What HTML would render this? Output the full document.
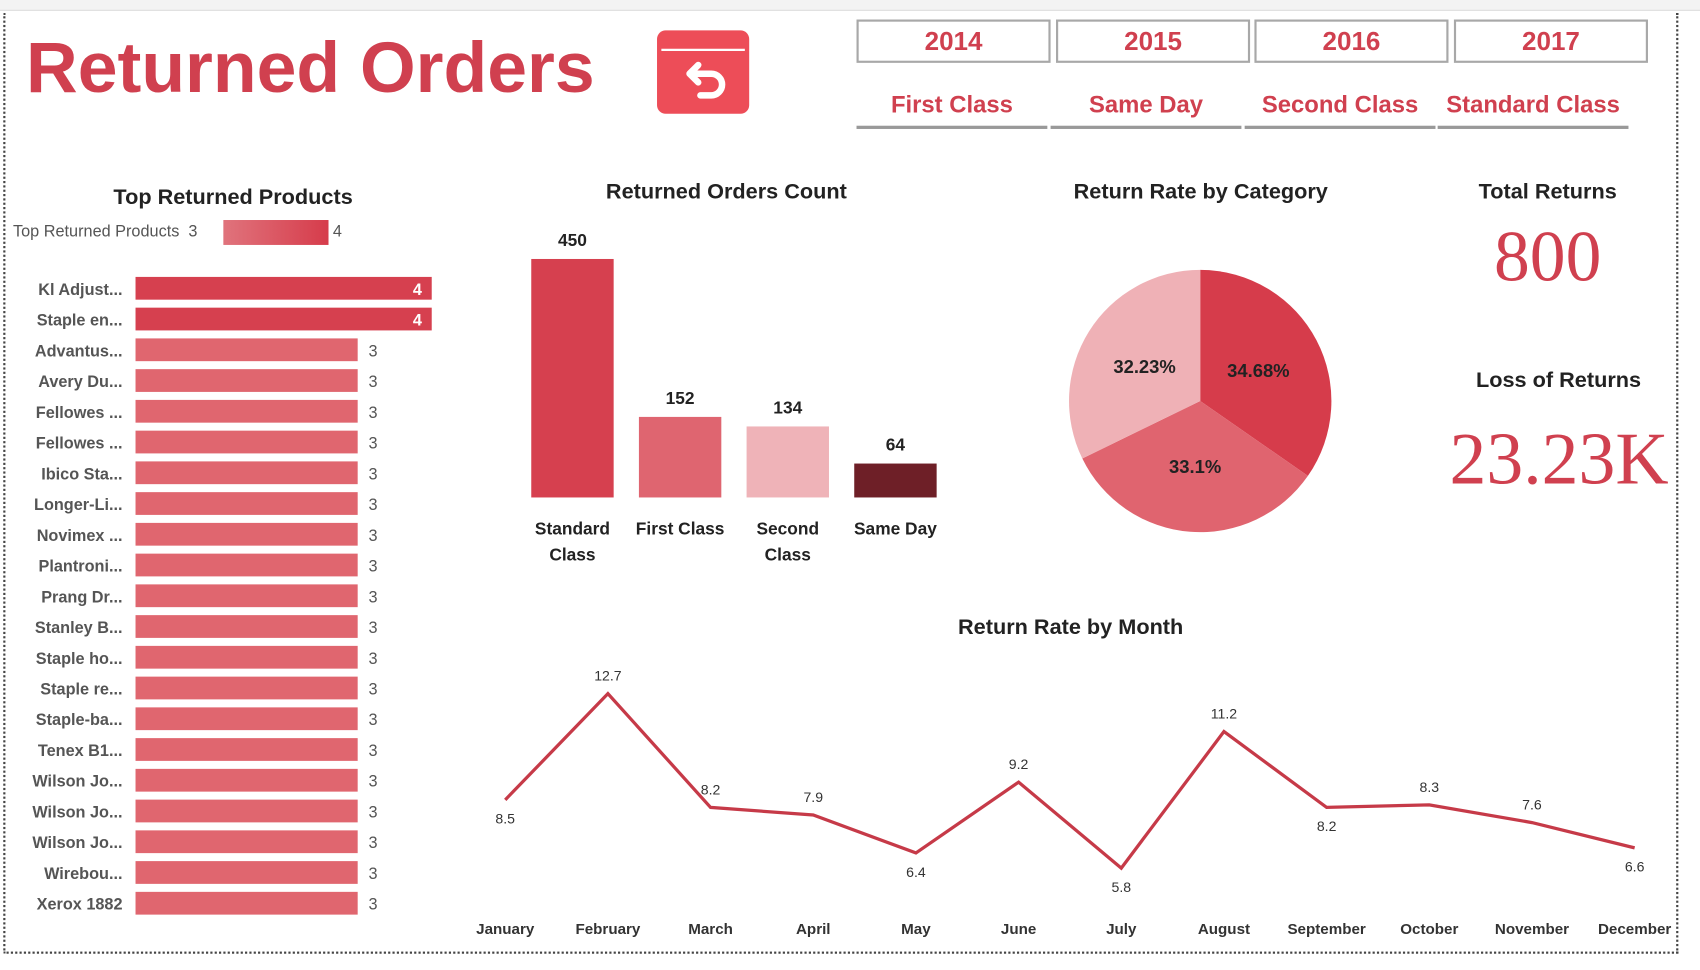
<!DOCTYPE html>
<html><head><meta charset="utf-8">
<style>
html,body{margin:0;padding:0;width:1700px;height:970px;overflow:hidden;background:#fff;font-family:"Liberation Sans",sans-serif;}
#wrap{position:absolute;left:0;top:0;width:1568px;height:895px;transform:scale(1.0842,1.0838);transform-origin:0 0;}
.abs{position:absolute;}
.slicer{position:absolute;top:18px;width:179px;height:40px;border:2px solid #a8a8a8;box-sizing:border-box;color:#d0404f;font-weight:bold;font-size:24px;text-align:center;line-height:38px;}
.ship{position:absolute;top:82px;width:176px;height:34px;border-bottom:3px solid #999;color:#d0404f;font-weight:bold;font-size:22px;text-align:center;line-height:30px;}
.ttl{position:absolute;font-weight:bold;font-size:20px;color:#222;text-align:center;}
</style></head><body>
<div id="wrap">
<div class="abs" style="left:0;top:0;width:1568px;height:9px;background:#f3f3f3;border-bottom:1px solid #ddd;"></div>
<div class="abs" style="left:3px;top:12px;width:1545px;height:868px;border:2px dotted #444;border-top:none;box-sizing:border-box;"></div>
<div class="abs" style="left:24px;top:24px;font-size:66px;font-weight:bold;color:#d0404f;letter-spacing:0px;">Returned Orders</div>
<div class="abs" style="left:606px;top:28px;width:85px;height:77px;background:#ed4d58;border-radius:8px;">
<svg width="85" height="77" viewBox="0 0 85 77"><line x1="4" y1="18" x2="81" y2="18" stroke="#fff" stroke-width="2"/><path d="M36 38 L28 46 L36 54 M29 46 H48 a10 10 0 0 1 0 20 H38" fill="none" stroke="#fff" stroke-width="6" stroke-linecap="round" stroke-linejoin="round" transform="translate(2,-6)"/></svg></div>

<div class="slicer" style="left:790px;">2014</div>
<div class="slicer" style="left:974px;">2015</div>
<div class="slicer" style="left:1157px;">2016</div>
<div class="slicer" style="left:1341px;">2017</div>
<div class="ship" style="left:790px;">First Class</div>
<div class="ship" style="left:969px;">Same Day</div>
<div class="ship" style="left:1148px;">Second Class</div>
<div class="ship" style="left:1326px;">Standard Class</div>

<div class="ttl" style="left:60px;top:171px;width:310px;">Top Returned Products</div>
<div class="abs" style="left:12px;top:205px;font-size:15px;color:#555;">Top Returned Products&nbsp; 3</div>
<div class="abs" style="left:206px;top:203px;width:97px;height:23px;background:linear-gradient(90deg,#e0737c,#d63c4b);"></div>
<div class="abs" style="left:307px;top:205px;font-size:15px;color:#555;">4</div>
<svg class="abs" id="bars" style="left:0;top:240px;" width="440" height="620"></svg>

<div class="ttl" style="left:500px;top:166px;width:340px;">Returned Orders Count</div>
<svg class="abs" id="cols" style="left:470px;top:200px;" width="420" height="340"></svg>

<div class="ttl" style="left:950px;top:166px;width:315px;">Return Rate by Category</div>
<svg class="abs" id="pie" style="left:980px;top:240px;" width="260" height="260"></svg>

<div class="ttl" style="left:1330px;top:166px;width:195px;">Total Returns</div>
<div class="abs" style="left:1330px;top:200px;width:195px;text-align:center;font-family:'Liberation Serif',serif;font-size:66px;color:#d0404f;">800</div>
<div class="ttl" style="left:1340px;top:340px;width:195px;">Loss of Returns</div>
<div class="abs" style="left:1318px;top:384px;width:240px;text-align:center;font-family:'Liberation Serif',serif;font-size:68px;color:#d0404f;">23.23K</div>

<div class="ttl" style="left:830px;top:568px;width:315px;">Return Rate by Month</div>
<svg class="abs" id="line" style="left:420px;top:600px;" width="1130" height="280"></svg>
</div>
<script>
const NS='http://www.w3.org/2000/svg';
function mk(p,t,a){const e=document.createElementNS(NS,t);for(const k in a)e.setAttribute(k,a[k]);p.appendChild(e);return e;}
// Top products
const products=['Kl Adjust...','Staple en...','Advantus...','Avery Du...','Fellowes ...','Fellowes ...','Ibico Sta...','Longer-Li...','Novimex ...','Plantroni...','Prang Dr...','Stanley B...','Staple ho...','Staple re...','Staple-ba...','Tenex B1...','Wilson Jo...','Wilson Jo...','Wilson Jo...','Wirebou...','Xerox 1882'];
const productReturns=[4,4,3,3,3,3,3,3,3,3,3,3,3,3,3,3,3,3,3,3,3];
// Shipping modes
const modes=[['Standard','Class'],['First Class'],['Second','Class'],['Same Day']];
const modeCounts=[450,152,134,64];
const modeColors=['#d6404f','#df6570','#efb3b8','#6e1f27'];
// Category pie
const catShares=[34.68,33.1,32.23];
const catLabels=['34.68%','33.1%','32.23%'];
const catColors=['#d63c4b','#e0646f','#efb1b6'];
// Months
const months=['January','February','March','April','May','June','July','August','September','October','November','December'];
const monthRates=[8.5,12.7,8.2,7.9,6.4,9.2,5.8,11.2,8.2,8.3,7.6,6.6];
const labelAbove=[false,true,true,true,false,true,false,true,false,true,true,false];

(function(){
 const s=document.getElementById('bars');
 const x=v=>125+v*68.3, y=i=>26+i*28.37;
 products.forEach((p,i)=>{
  const v=productReturns[i];
  const t=mk(s,'text',{x:113,y:y(i)+6,'text-anchor':'end','font-size':15,'font-weight':'bold',fill:'#555'});t.textContent=p;
  
  
  const r=mk(s,'rect',{x:125,y:y(i)-10.5,width:x(v)-125,height:21,fill:v>=4?'#d6404f':'#e0666f'});
  
  
  const l=v>=4?mk(s,'text',{x:x(v)-9,y:y(i)+6,'text-anchor':'end','font-size':15,'font-weight':'bold',fill:'#fff'}):mk(s,'text',{x:x(v)+10,y:y(i)+6,'font-size':15,fill:'#555'});
  l.textContent=v;
  
  
 });
})();
(function(){
 const s=document.getElementById('cols');
 const base=259, h=v=>v*0.489, cx=i=>58+i*99.3;
 modeCounts.forEach((v,i)=>{
  const r=mk(s,'rect',{x:cx(i)-38,y:base-h(v),width:76,height:h(v),fill:modeColors[i]});
  
  
  const t=mk(s,'text',{x:cx(i),y:base-h(v)-12,'text-anchor':'middle','font-size':16,'font-weight':'bold',fill:'#222'});t.textContent=v;
  
  
  modes[i].forEach((w,j)=>{const c=mk(s,'text',{x:cx(i),y:base+34+j*24,'text-anchor':'middle','font-size':16,'font-weight':'bold',fill:'#222'});c.textContent=w;
   
   });
 });
})();
(function(){
 const s=document.getElementById('pie');
 const cx=127,cy=130,r=121,tot=catShares.reduce((a,b)=>a+b,0);
 let a0=-Math.PI/2;
 catShares.forEach((v,i)=>{
  const a1=a0+v/tot*2*Math.PI;
  const p=mk(s,'path',{d:`M${cx},${cy} L${cx+r*Math.cos(a0)},${cy+r*Math.sin(a0)} A${r},${r} 0 ${a1-a0>Math.PI?1:0} 1 ${cx+r*Math.cos(a1)},${cy+r*Math.sin(a1)} Z`,fill:catColors[i]});
  
  
  const m=(a0+a1)/2;
  const t=mk(s,'text',{x:cx+r*0.5*Math.cos(m),y:cy+r*0.5*Math.sin(m)+6,'text-anchor':'middle','font-size':17,'font-weight':'bold',fill:'#222'});t.textContent=catLabels[i];
  
  
  a0=a1;
 });
})();
(function(){
 const s=document.getElementById('line');
 const x=i=>46+i*94.7, y=v=>40+(12.7-v)*23.33;
 const pts=monthRates.map((v,i)=>x(i)+','+y(v)).join(' ');
 const pl=mk(s,'polyline',{points:pts,fill:'none',stroke:'#c63a48','stroke-width':3,'stroke-linejoin':'miter'});
 
 
 monthRates.forEach((v,i)=>{
  const t=mk(s,'text',{x:x(i),y:labelAbove[i]?y(v)-12:y(v)+22,'text-anchor':'middle','font-size':13,fill:'#333'});t.textContent=v;
  
  
  const m=mk(s,'text',{x:x(i),y:262,'text-anchor':'middle','font-size':14,'font-weight':'bold',fill:'#333'});m.textContent=months[i];
  
  
 });
})();
</script>
</body></html>
